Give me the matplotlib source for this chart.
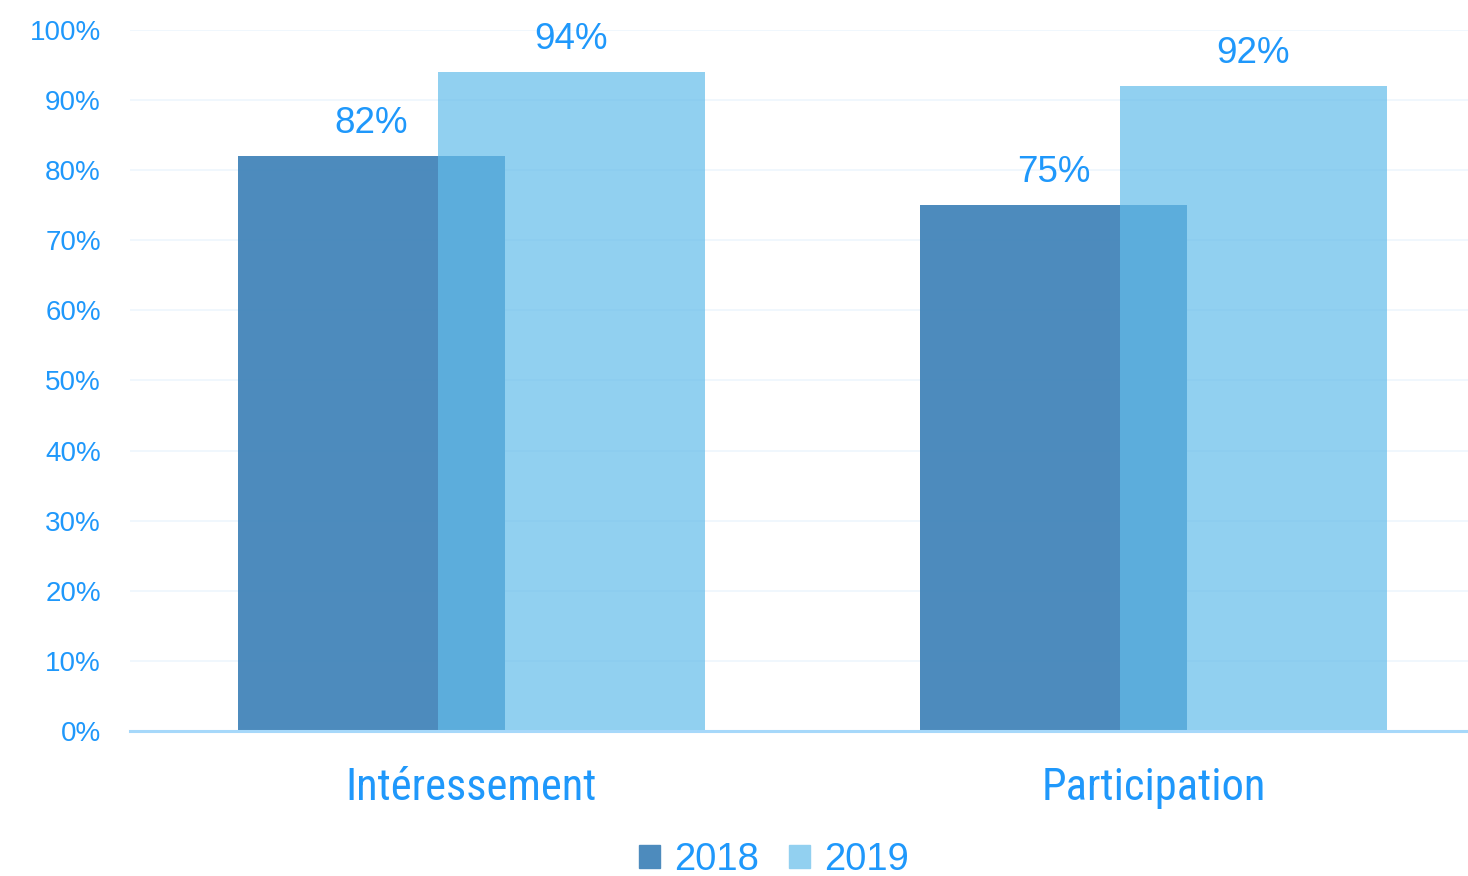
import matplotlib.pyplot as plt
import numpy as np

# data
categories = ["Intéressement", "Participation"]
years = ["2018", "2019"]
values_2018 = [0.82, 0.75]
values_2019 = [0.94, 0.92]
yticks = [0, 0.1, 0.2, 0.3, 0.4, 0.5, 0.6, 0.7, 0.8, 0.9, 1.0]

text_color = "#1f98fb"
plt.rcParams['font.family'] = ['Liberation Sans', 'DejaVu Sans']

fig = plt.figure(figsize=(14.68, 8.76), dpi=100)
ax = fig.add_axes([130 / 1468, 145 / 876, 1338 / 1468, 701 / 876])

x = np.arange(len(categories))
w = 0.3915
off = 0.1466

ax.set_axisbelow(True)
ax.yaxis.grid(True, color="#eef6fd", linewidth=1.2)
ax.bar(x - off, values_2018, w, color="#4385ba", alpha=0.95, zorder=2)
ax.bar(x + off, values_2019, w, color="#63bcea", alpha=0.7, zorder=3)

for xi, v in zip(x - off, values_2018):
    ax.annotate(f"{v:.0%}", (xi, v), xytext=(0, 11), textcoords="offset points",
                ha="center", va="bottom", fontsize=26.5, color=text_color)
for xi, v in zip(x + off, values_2019):
    ax.annotate(f"{v:.0%}", (xi, v), xytext=(0, 11), textcoords="offset points",
                ha="center", va="bottom", fontsize=26.5, color=text_color, zorder=5)

ax.set_xlim(-0.5, 1.461)
ax.set_ylim(0, 1.0)
ax.set_yticks(yticks)
ax.set_yticklabels([f"{t:.0%}" for t in yticks])
ax.set_xticks(x)
ax.set_xticklabels(categories, family=['Roboto Condensed', 'Liberation Sans'])

for s in ["top", "right", "left"]:
    ax.spines[s].set_visible(False)
ax.spines["bottom"].set_color("#a6d8fa")
ax.spines["bottom"].set_linewidth(2.2)
ax.spines["bottom"].set_zorder(4)

ax.tick_params(axis="y", length=0, pad=21, labelsize=20, labelcolor=text_color)
ax.tick_params(axis="x", length=0, pad=26, labelsize=32, labelcolor=text_color)

handles = [plt.Rectangle((0, 0), 1, 1, color="#4d8bbd"),
           plt.Rectangle((0, 0), 1, 1, color="#92d0f0")]
leg = fig.legend(handles, years, loc="center", bbox_to_anchor=(774 / 1468, 1 - 860 / 876),
                 ncol=2, frameon=False, fontsize=27.5, handlelength=0.55, handleheight=0.55,
                 handletextpad=0.35, columnspacing=0.8, borderpad=0)
for t in leg.get_texts():
    t.set_color(text_color)

fig.savefig("out.png", dpi=100)
